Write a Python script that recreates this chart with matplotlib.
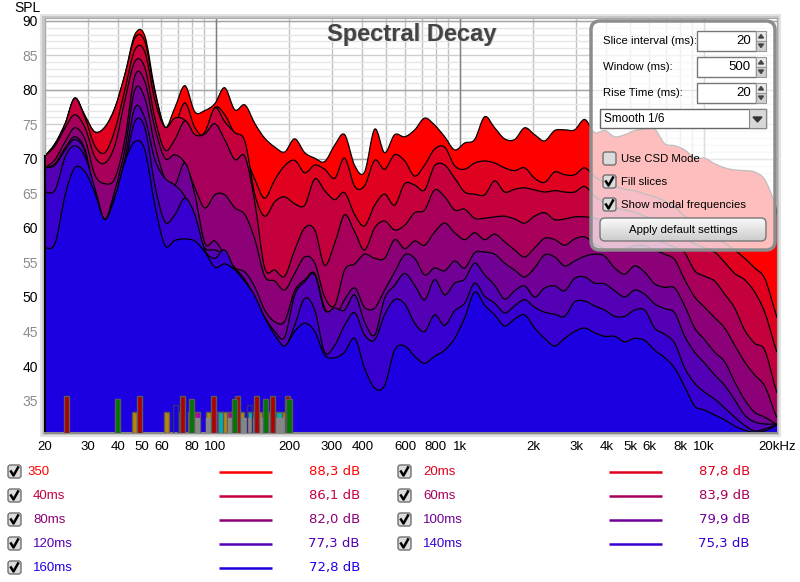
import numpy as np
import matplotlib
matplotlib.use("Agg")
import matplotlib.pyplot as plt
from matplotlib.path import Path
from matplotlib.patches import PathPatch, FancyBboxPatch, Rectangle, Polygon
from matplotlib.ticker import NullFormatter

plt.rcParams['font.family'] = ['Liberation Sans', 'DejaVu Sans']

# frequencies (Hz), same for every slice
freq = [20, 22.0, 24.2, 26.5, 29.2, 32.0, 35.2, 38.7, 42.5, 46.7, 51.3, 56.4, 62.0, 68.1, 74.9,
        82.3, 90.4, 99.4, 109, 120, 132, 145, 159, 175, 192, 211, 232, 255, 280, 308,
        338, 372, 408, 449, 493, 542, 596, 655, 719, 790, 869, 955, 1050, 1153, 1267,
        1393, 1530, 1682, 1848, 2031, 2232, 2453, 2696, 2963, 3256, 3578, 3933, 4322, 4750, 5220,
        5737, 6305, 6929, 7615, 8369, 9197, 10108, 11109, 12208, 13417, 14745, 16205, 17809, 19572, 20000]

# SPL of each slice (dB)
spl_350 = [70.4, 72.2, 75.1, 78.8, 76.2, 73.9, 74.6, 77.4, 82.2, 88.0, 87.8, 80.0, 74.6, 77.4, 80.6,
           76.8, 77.0, 78.0, 80.3, 77.1, 77.8, 75.1, 73.0, 71.7, 71.0, 72.9, 70.9, 70.1, 69.6, 72.0,
           73.5, 69.0, 68.1, 74.3, 70.9, 73.5, 73.2, 74.2, 75.9, 74.9, 73.2, 71.3, 72.3, 72.8, 76.1,
           74.5, 72.9, 72.8, 74.5, 73.5, 72.6, 74.1, 74.2, 74.2, 75.7, 73.8, 74.1, 73.2, 73.5, 74.1,
           74.3, 74.3, 72.2, 71.9, 71.3, 70.1, 70.1, 69.3, 68.7, 68.4, 68.3, 68.1, 67.0, 63.6, 61.9]
spl_20 = [70.4, 72.2, 75.1, 78.8, 76.2, 73.9, 74.6, 77.4, 82.2, 87.5, 87.0, 79.7, 74.6, 74.9, 78.1,
          74.5, 73.5, 77.4, 76.4, 73.5, 70.6, 67.0, 64.3, 67.0, 69.0, 69.8, 68.0, 69.1, 68.5, 67.2,
          70.1, 66.0, 66.1, 69.8, 68.5, 70.6, 69.7, 67.5, 69.1, 71.4, 71.7, 69.0, 68.5, 69.4, 69.7,
          69.4, 68.7, 68.3, 68.7, 67.2, 66.6, 68.1, 67.7, 67.7, 68.7, 67.4, 66.6, 66.1, 65.6, 65.4,
          64.9, 64.5, 63.9, 63.0, 61.7, 60.7, 59.8, 58.8, 57.8, 56.8, 55.6, 54.2, 52.7, 48.1, 47.0]
spl_40 = [70.4, 72.2, 75.1, 78.8, 75.9, 71.9, 70.9, 74.2, 80.0, 85.8, 85.5, 78.5, 74.6, 75.9, 75.6,
          73.3, 73.9, 77.4, 75.4, 73.8, 72.5, 64.8, 61.7, 63.8, 64.5, 63.5, 63.3, 67.1, 65.4, 64.1,
          65.1, 61.9, 60.3, 63.3, 64.9, 63.3, 66.4, 66.2, 65.5, 69.0, 69.1, 67.2, 65.2, 64.9, 64.8,
          66.8, 65.2, 65.6, 65.8, 65.5, 65.2, 65.4, 65.2, 65.2, 66.0, 64.6, 63.6, 63.0, 62.6, 62.3,
          61.7, 61.2, 60.0, 59.0, 58.5, 57.7, 57.1, 56.5, 55.0, 53.4, 52.5, 50.7, 47.8, 43.0, 42.0]
spl_60 = [70.4, 71.9, 74.5, 76.4, 74.5, 70.3, 69.4, 72.0, 78.5, 84.1, 83.2, 75.9, 71.3, 72.8, 75.5,
          73.5, 73.6, 75.1, 72.8, 69.9, 70.3, 63.6, 54.2, 53.9, 53.0, 56.8, 60.0, 59.7, 54.6, 57.8,
          61.9, 59.4, 56.8, 60.0, 61.0, 59.7, 60.4, 62.2, 62.6, 65.5, 64.5, 62.6, 62.7, 61.4, 61.4,
          61.6, 61.7, 61.3, 60.7, 61.7, 62.2, 61.2, 61.3, 61.6, 61.6, 61.4, 61.0, 60.6, 60.3, 59.7,
          59.3, 58.5, 57.8, 57.2, 56.4, 53.8, 53.0, 52.3, 50.4, 48.4, 45.2, 43.3, 42.3, 37.2, 36.1]
spl_80 = [68.7, 69.9, 72.5, 74.5, 72.8, 67.7, 66.4, 67.2, 72.8, 82.0, 81.2, 74.5, 70.1, 70.6, 69.4,
          65.8, 62.9, 64.8, 64.8, 62.9, 61.9, 58.3, 53.0, 52.3, 51.0, 53.4, 55.8, 54.9, 50.0, 48.8,
          53.9, 54.8, 56.2, 55.6, 55.6, 58.3, 57.0, 58.1, 57.5, 59.4, 60.7, 59.3, 58.3, 59.3, 58.3,
          59.1, 58.0, 56.8, 55.8, 57.1, 58.5, 58.3, 57.5, 58.4, 58.7, 57.7, 57.0, 56.8, 57.0, 57.4,
          57.4, 56.8, 56.2, 55.4, 52.5, 50.0, 48.5, 47.0, 45.5, 43.0, 40.6, 38.7, 37.1, 33.3, 32.5]
spl_100 = [68.7, 69.3, 71.6, 73.2, 71.3, 64.8, 61.2, 65.5, 71.3, 80.0, 78.8, 72.0, 67.2, 66.2, 69.4,
           64.8, 57.8, 58.1, 56.1, 54.2, 53.6, 51.4, 48.1, 46.4, 46.5, 50.9, 52.5, 53.4, 48.4, 47.2,
           49.6, 51.3, 48.5, 48.4, 51.0, 53.6, 56.1, 55.6, 53.2, 54.2, 53.8, 55.2, 54.2, 56.4, 56.5,
           56.2, 54.9, 53.9, 52.9, 54.2, 56.1, 55.8, 54.5, 55.2, 55.9, 56.2, 55.9, 54.2, 53.3, 54.5,
           53.6, 51.9, 51.4, 51.3, 48.7, 45.5, 43.8, 42.0, 40.6, 37.7, 35.1, 33.3, 32.6, 31.7, 31.4]
spl_120 = [68.7, 69.1, 71.3, 72.8, 71.0, 64.1, 61.2, 64.5, 69.9, 77.4, 75.9, 69.9, 67.2, 66.2, 64.5,
           60.4, 57.1, 56.8, 56.1, 54.2, 52.5, 50.0, 47.1, 45.0, 44.2, 50.3, 52.2, 53.2, 48.1, 48.4,
           48.1, 50.3, 46.4, 44.5, 49.8, 51.7, 53.4, 51.7, 49.6, 52.5, 50.3, 52.0, 52.6, 54.9, 53.2,
           51.7, 49.7, 50.9, 51.6, 50.0, 51.3, 51.6, 50.9, 52.7, 52.9, 52.0, 51.9, 50.9, 50.0, 51.0,
           50.4, 49.0, 48.3, 47.7, 44.3, 42.0, 40.4, 38.7, 37.2, 35.1, 32.9, 31.9, 31.6, 31.6, 31.6]
spl_140 = [65.2, 65.5, 70.3, 71.9, 70.3, 65.8, 61.2, 64.5, 69.1, 75.4, 74.5, 66.2, 60.9, 61.9, 64.3,
           61.9, 56.8, 55.6, 56.8, 53.9, 51.7, 49.6, 46.4, 44.2, 42.7, 45.9, 49.8, 48.1, 42.0, 43.0,
           45.9, 47.7, 44.5, 43.8, 47.4, 49.6, 49.0, 46.2, 45.0, 47.4, 45.9, 48.0, 49.1, 52.0, 50.1,
           49.1, 47.7, 48.7, 49.6, 48.5, 47.8, 47.5, 47.2, 49.3, 49.4, 48.7, 48.1, 47.2, 47.2, 48.1,
           48.1, 45.5, 44.6, 43.3, 39.7, 37.5, 36.2, 35.2, 33.9, 32.6, 31.4, 30.6, 30.9, 31.4, 31.6]
spl_160 = [57.1, 57.8, 64.8, 68.7, 68.1, 65.1, 61.2, 64.5, 69.6, 72.5, 71.3, 63.3, 57.5, 58.2, 58.4,
           58.1, 56.5, 54.3, 54.8, 53.9, 52.2, 50.1, 47.0, 44.5, 42.9, 45.0, 46.2, 45.0, 41.6, 41.2,
           42.0, 44.0, 39.7, 36.8, 37.2, 42.3, 42.9, 41.4, 40.4, 41.4, 42.3, 44.0, 47.0, 50.7, 48.8,
           47.4, 45.8, 46.8, 47.4, 45.5, 44.0, 42.9, 44.0, 45.0, 45.5, 44.8, 44.3, 44.3, 43.5, 44.0,
           43.7, 42.3, 41.2, 39.7, 37.0, 34.2, 33.6, 32.9, 32.2, 31.3, 30.7, 30.4, 30.6, 31.3, 31.6]

slices = [spl_350, spl_20, spl_40, spl_60, spl_80, spl_100, spl_120, spl_140, spl_160]
slice_colors = ['#ff0000', '#e0001f', '#c4003d', '#a8005a', '#8c0078', '#700096', '#5400b4', '#3800d0', '#1c00e2']

# legend, in drawing order (left column, right column)
legend_names = ['350', '20ms', '40ms', '60ms', '80ms', '100ms', '120ms', '140ms', '160ms']
legend_values = ['88,3 dB', '87,8 dB', '86,1 dB', '83,9 dB', '82,0 dB', '79,9 dB', '77,3 dB', '75,3 dB', '72,8 dB']

# modal frequencies: Hz and the SPL the bar reaches
modal_red = [24.5, 48.8, 73.2, 98.1, 123, 147, 171, 197]
modal_green = [39.6, 79.7, 120, 160, 200]
modal_gold = [46.5, 62.9, 93.6, 109, 128, 152, 167, 191]
modal_purple = [72.5, 84.3, 101, 115.6, 146, 175]
modal_cyan = [78.9, 105, 139, 160, 182]
modal_gray = [83.2, 93.6, 115.6, 130, 136, 141, 146, 151, 156, 161, 166, 171, 176, 181, 186, 191, 196]
modal_blue = [68.5, 138]
red_top, green_top, gold_top, gray_top, blue_top = 35.6, 35.2, 33.3, 32.5, 34.3

x_ticks = [20, 30, 40, 50, 60, 70, 80, 90, 100, 200, 300, 400, 500, 600, 700, 800, 900, 1000,
           2000, 3000, 4000, 5000, 6000, 7000, 8000, 9000, 10000, 20000]
x_labels = {20: '20', 30: '30', 40: '40', 50: '50', 60: '60', 80: '80', 100: '100', 200: '200',
            300: '300', 400: '400', 600: '600', 800: '800', 1000: '1k', 2000: '2k', 3000: '3k',
            4000: '4k', 5000: '5k', 6000: '6k', 8000: '8k', 10000: '10k', 20000: '20kHz'}
y_ticks = [35, 40, 45, 50, 55, 60, 65, 70, 75, 80, 85, 90]

Y_MIN, Y_MAX = 30.3, 90.4


def curve_path(xs, ys, ymin=None):
    # smooth bezier through the read points, in log frequency
    lx = np.log10(xs)
    ys = np.array(ys, dtype=float)
    n = len(lx)
    verts = [(xs[0], ys[0])]
    codes = [Path.MOVETO]
    for i in range(n - 1):
        a = max(i - 1, 0)
        b = min(i + 2, n - 1)
        c1x = lx[i] + (lx[i + 1] - lx[a]) / 6
        c1y = ys[i] + (ys[i + 1] - ys[a]) / 6
        c2x = lx[i + 1] - (lx[b] - lx[i]) / 6
        c2y = ys[i + 1] - (ys[b] - ys[i]) / 6
        verts += [(10 ** c1x, c1y), (10 ** c2x, c2y), (xs[i + 1], ys[i + 1])]
        codes += [Path.CURVE4] * 3
    if ymin is not None:
        verts += [(xs[-1], ymin), (xs[0], ymin), (xs[0], ys[0])]
        codes += [Path.LINETO] * 3
    return Path(verts, codes)


fig = plt.figure(figsize=(8.0, 5.82), dpi=100, facecolor='white')

# soft frame behind the plot
bg = fig.add_axes([0, 0, 1, 1], zorder=0)
bg.set_xlim(0, 800)
bg.set_ylim(582, 0)
bg.axis('off')
bg.add_patch(Rectangle((41, 15), 739, 421, facecolor='#c6c6c6', edgecolor='#e2e2e2', lw=1.5))

ax = fig.add_axes([45 / 800, (582 - 433) / 582, 732 / 800, 415 / 582], zorder=1)
ax.set_xscale('log')
ax.set_xlim(20, 20000)
ax.set_ylim(Y_MIN, Y_MAX)
ax.set_axisbelow(True)

ax.set_xticks(x_ticks)
ax.set_xticklabels([x_labels.get(t, '') for t in x_ticks], fontsize=9.5)
ax.xaxis.set_minor_formatter(NullFormatter())
ax.set_xticks([], minor=True)
ax.set_yticks(y_ticks)
ax.set_yticklabels([str(t) for t in y_ticks], fontsize=10)
ax.set_yticks(np.arange(31, 91), minor=True)
ax.yaxis.set_minor_formatter(NullFormatter())
ax.tick_params(which='both', length=0)
ax.tick_params(axis='x', pad=6)
ax.tick_params(axis='y', pad=5)
for t, lab in zip(y_ticks, ax.get_yticklabels()):
    lab.set_color('black' if t % 10 == 0 else '#8c8c8c')

ax.grid(which='minor', axis='y', color='#e6e6e6', lw=1)
ax.grid(which='major', axis='y', color='#cfcfcf', lw=1)
ax.grid(which='major', axis='x', color='#c0c0c0', lw=1)
for t in [40, 50, 60, 70, 80, 90]:
    ax.axhline(t, color='#a6a6a6', lw=1, zorder=0.9)
for t in [100, 1000, 10000]:
    ax.axvline(t, color='#808080', lw=1, zorder=0.9)

for sp in ax.spines.values():
    sp.set_color('#a8a8a8')
    sp.set_linewidth(0.8)

# slices, oldest behind
for i, (spl, col) in enumerate(zip(slices, slice_colors)):
    ax.add_patch(PathPatch(curve_path(freq, spl, Y_MIN), facecolor=col, edgecolor='none', zorder=2 + i * 0.1))
    ax.add_patch(PathPatch(curve_path(freq, spl), facecolor='none', edgecolor='black', lw=0.9, zorder=2.05 + i * 0.1))
ax.plot([freq[0], freq[0]], [Y_MIN, spl_350[0]], color='black', lw=1.5, zorder=3.5, clip_on=False)
ax.plot([freq[0], freq[-1]], [Y_MIN, Y_MIN], color='#8a8a8a', lw=1.5, zorder=3.5, clip_on=False)


def modal_bars(fs, top, col, edge='#5a5a5a', z=4):
    fs = np.array(fs)
    ax.bar(fs, top - Y_MIN, bottom=Y_MIN, width=fs * 0.048, color=col, edgecolor=edge, lw=1, zorder=z)


modal_bars(modal_gold, gold_top, '#b8860b')
modal_bars(modal_purple, gold_top, '#b000a8')
modal_bars(modal_cyan, gold_top, '#00b0b0')
modal_bars(modal_gray, gray_top, '#868686', edge='#868686', z=4.1)
modal_bars(modal_red, red_top, '#b00000', z=4.2)
modal_bars(modal_green, green_top, '#007800', z=4.2)
modal_bars(modal_blue, blue_top, 'none', edge='#30307a', z=4.3)

# everything else is drawn in pixel positions on top
ui = fig.add_axes([0, 0, 1, 1], zorder=2)
ui.set_xlim(0, 800)
ui.set_ylim(582, 0)
ui.axis('off')
ui.patch.set_alpha(0)

ui.text(27, 8, 'SPL', fontsize=10, ha='center', va='center', color='black')
ui.text(412.5, 35, 'Spectral Decay', fontsize=17, fontweight='bold', ha='center', va='center', color='#c8c8c8')
ui.text(411.5, 34, 'Spectral Decay', fontsize=17, fontweight='bold', ha='center', va='center', color='#444444')


def checkbox(x, y, checked=True, size=13):
    ui.add_patch(FancyBboxPatch((x, y), size, size, boxstyle='round,pad=0,rounding_size=2.5',
                                facecolor='#dcdcdc', edgecolor='#707070', lw=1, zorder=6))
    if checked:
        ui.plot([x + 3, x + 5.5, x + 10], [y + 6.5, y + 10.5, y + 2.5], color='black', lw=1.8, zorder=7)


def spinner(y, value):
    ui.add_patch(Rectangle((697, y), 59, 20, facecolor='white', edgecolor='#777777', lw=1, zorder=6))
    ui.add_patch(Rectangle((756, y), 10, 10, facecolor='#e8e8e8', edgecolor='#999999', lw=0.8, zorder=6))
    ui.add_patch(Rectangle((756, y + 10), 10, 10, facecolor='#d0d0d0', edgecolor='#999999', lw=0.8, zorder=6))
    ui.add_patch(Polygon([(758.5, y + 7), (761, y + 3.5), (763.5, y + 7)], color='#444444', zorder=7))
    ui.add_patch(Polygon([(758.5, y + 13), (761, y + 16.5), (763.5, y + 13)], color='#444444', zorder=7))
    ui.text(751, y + 10.5, value, fontsize=9.5, ha='right', va='center', zorder=7)


# settings panel
ui.add_patch(FancyBboxPatch((591, 21), 184, 229, boxstyle='round,pad=0,rounding_size=9',
                            facecolor=(1, 1, 1, 0.75), edgecolor='#8c8c8c', lw=2.5, zorder=5))
for label, value, y in [('Slice interval (ms):', '20', 31), ('Window (ms):', '500', 57), ('Rise Time (ms):', '20', 83)]:
    ui.text(603, y + 10.5, label, fontsize=8.2, ha='left', va='center', zorder=7)
    spinner(y, value)

ui.add_patch(Rectangle((600, 109), 166, 19, facecolor='white', edgecolor='#666666', lw=1, zorder=6))
ui.add_patch(Rectangle((749, 109), 17, 19, facecolor='#d8d8d8', edgecolor='#888888', lw=0.8, zorder=6))
ui.add_patch(Polygon([(753, 117), (762, 117), (757.5, 122)], color='#333333', zorder=7))
ui.text(604, 119, 'Smooth 1/6', fontsize=8.5, ha='left', va='center', zorder=7)

checkbox(603, 152, checked=False)
checkbox(603, 175)
checkbox(603, 198)
ui.text(621, 159, 'Use CSD Mode', fontsize=8.2, ha='left', va='center', zorder=7)
ui.text(621, 182, 'Fill slices', fontsize=8.2, ha='left', va='center', zorder=7)
ui.text(621, 205, 'Show modal frequencies', fontsize=8.2, ha='left', va='center', zorder=7)

button = FancyBboxPatch((600, 218), 166, 23, boxstyle='round,pad=0,rounding_size=5',
                        facecolor='none', edgecolor='#777777', lw=1, zorder=6.5)
ui.add_patch(button)
shade = ui.imshow(np.linspace(0.98, 0.80, 24).reshape(-1, 1), extent=(600, 766, 241, 218), cmap='gray', vmin=0, vmax=1,
                  aspect='auto', zorder=6)
shade.set_clip_path(button)
ui.set_xlim(0, 800)
ui.set_ylim(582, 0)
ui.text(683, 230, 'Apply default settings', fontsize=8.2, ha='center', va='center', zorder=7)

# legend rows under the plot
row_y = [472, 496, 520, 544, 568]
rows = [(i // 2, i % 2) if i < 8 else (4, 0) for i in range(9)]
for name, val, col, (r, c) in zip(legend_names, legend_values, slice_colors, rows):
    dx = 390 * c
    y = row_y[r]
    checkbox(8 + dx, y - 7)
    tx = 27 if name == '350' else 33
    ui.text(tx + dx, y, name, color=col, fontsize=9.5, ha='left', va='center')
    ui.plot([219 + dx, 272 + dx], [y, y], color=col, lw=1.8, solid_capstyle='butt')
    ui.text(360 + dx, y, val, color=col, fontsize=9.5, ha='right', va='center', family='DejaVu Sans')

fig.savefig('out.png', dpi=100)
